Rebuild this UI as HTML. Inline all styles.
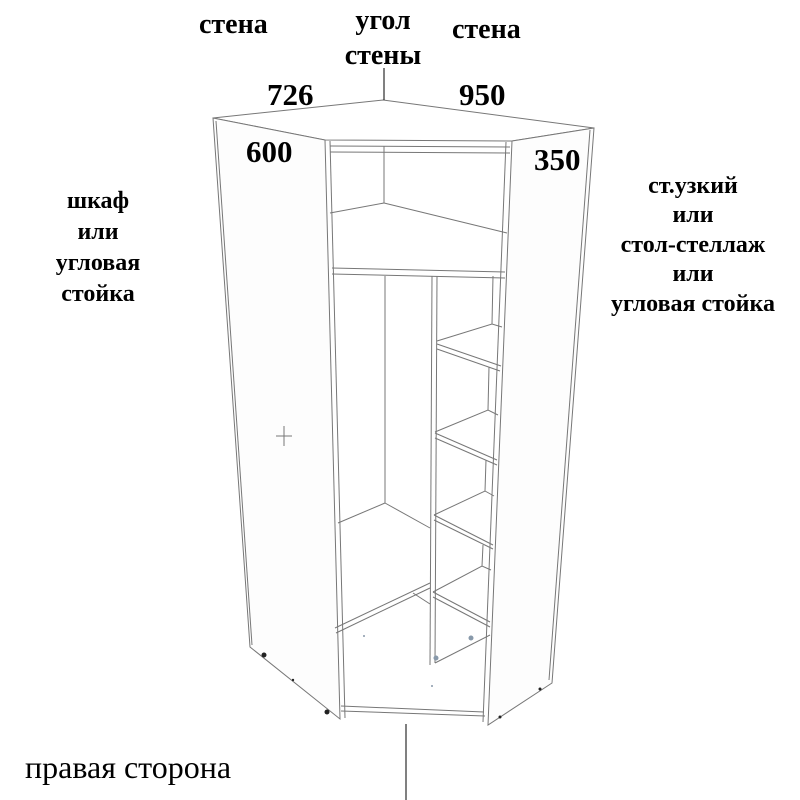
<!DOCTYPE html>
<html><head><meta charset="utf-8"><style>
html,body{margin:0;padding:0;background:#fff;}
svg{display:block}
.t{font-family:"Liberation Serif",serif;font-weight:bold;fill:#000}
</style></head><body>
<svg width="800" height="800" viewBox="0 0 800 800" xmlns="http://www.w3.org/2000/svg">
<g fill="none" stroke="#777" stroke-width="1">
<polygon points="213,118 383,100 594,128 512,141 325,140" fill="#fff"/>
<line x1="216" y1="121" x2="325" y2="141"/>
<line x1="512" y1="143" x2="594" y2="131"/>
<polygon points="213,118 325,140 340,719 250,647" fill="#fdfdfd"/>
<line x1="216" y1="121" x2="252" y2="645"/>
<line x1="330" y1="141" x2="345" y2="718"/>
<polygon points="512,141 594,128 552,683 488,725" fill="#fdfdfd"/>
<line x1="590" y1="130" x2="549" y2="680"/>
<line x1="506" y1="142" x2="483" y2="722"/>
<line x1="341" y1="706" x2="484" y2="712"/>
<line x1="341" y1="711" x2="485" y2="716"/>
<line x1="330" y1="146" x2="510" y2="147"/>
<line x1="330" y1="152" x2="510" y2="153"/>
<line x1="384" y1="146" x2="384" y2="203"/>
<line x1="330" y1="213" x2="384" y2="203"/>
<line x1="384" y1="203" x2="507" y2="233"/>
<line x1="332" y1="268" x2="505" y2="272"/>
<line x1="332" y1="274" x2="505" y2="278"/>
<line x1="385" y1="276" x2="385" y2="503"/>
<line x1="338" y1="523" x2="385" y2="503"/>
<line x1="385" y1="503" x2="430" y2="528"/>
<line x1="335" y1="628" x2="430" y2="583"/>
<line x1="336" y1="633" x2="430" y2="588"/>
<line x1="413" y1="593" x2="430" y2="604"/>
<line x1="432" y1="276" x2="430" y2="665"/>
<line x1="437" y1="276" x2="435" y2="663"/>
<line x1="435" y1="663" x2="490" y2="635"/>
<line x1="493" y1="276" x2="492" y2="324"/>
<polyline points="437,341 492,324 502,327"/>
<line x1="437" y1="344" x2="501" y2="366"/>
<line x1="437" y1="349" x2="500" y2="371"/>
<line x1="489" y1="367" x2="488" y2="410"/>
<polyline points="435,432 488,410 498,415"/>
<line x1="435" y1="433" x2="497" y2="460"/>
<line x1="435" y1="438" x2="497" y2="465"/>
<line x1="486" y1="460" x2="485" y2="491"/>
<polyline points="434,515 485,491 494,496"/>
<line x1="434" y1="515" x2="493" y2="545"/>
<line x1="434" y1="520" x2="493" y2="549"/>
<line x1="483" y1="545" x2="482" y2="566"/>
<polyline points="433,592 482,566 491,570"/>
<line x1="433" y1="592" x2="490" y2="622"/>
<line x1="433" y1="597" x2="490" y2="627"/>
<line x1="276" y1="436" x2="292" y2="436"/>
<line x1="284" y1="426" x2="284" y2="446"/>
</g>
<g fill="#222">
<circle cx="264" cy="655" r="2.5"/><circle cx="327" cy="712" r="2.5"/>
<circle cx="293" cy="680" r="1.2"/><circle cx="540" cy="689" r="1.5"/><circle cx="500" cy="717" r="1.5"/>
</g>
<g fill="#89a">
<circle cx="436" cy="658" r="2.5"/><circle cx="471" cy="638" r="2.5"/><circle cx="364" cy="636" r="1"/><circle cx="432" cy="686" r="1"/>
</g>
<line x1="384" y1="68" x2="384" y2="100" stroke="#000"/>
<line x1="406" y1="724" x2="406" y2="800" stroke="#000"/>
<g class="t" font-size="28">
<text x="199" y="33">стена</text>
<text x="383" y="29" text-anchor="middle">угол</text>
<text x="383" y="64" text-anchor="middle">стены</text>
<text x="452" y="38">стена</text>
<text x="267" y="105" font-size="31">726</text>
<text x="459" y="105" font-size="31">950</text>
<text x="246" y="162" font-size="31">600</text>
<text x="534" y="170" font-size="31">350</text>
</g>
<g class="t" font-size="24" text-anchor="middle">
<text x="98" y="208">шкаф</text>
<text x="98" y="239">или</text>
<text x="98" y="270">угловая</text>
<text x="98" y="301">стойка</text>
<text x="693" y="193">ст.узкий</text>
<text x="693" y="222">или</text>
<text x="693" y="252">стол-стеллаж</text>
<text x="693" y="281">или</text>
<text x="693" y="311">угловая стойка</text>
</g>
<text x="25" y="778" font-family="Liberation Serif,serif" font-size="32">правая сторона</text>
</svg>
</body></html>
